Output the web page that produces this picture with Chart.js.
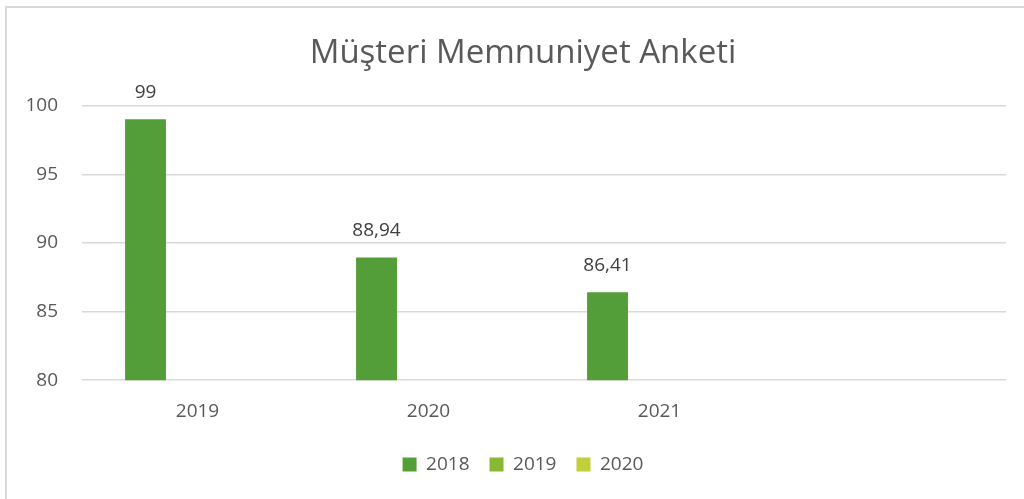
<!DOCTYPE html>
<html>
<head>
<meta charset="utf-8">
<script src="https://cdn.jsdelivr.net/npm/chart.js@4"></script>
<style>
  html, body { margin: 0; padding: 0; background: #fff; overflow: hidden; }
  #wrap { position: relative; width: 1024px; height: 499px; }
  #frame { position: absolute; left: 5px; top: 6px; width: 1100px; height: 600px;
           border: 2px solid #d9d9d9; pointer-events: none; }
</style>
</head>
<body>
<div id="wrap">
  <canvas id="chart" width="1024" height="499"></canvas>
  <div id="frame"></div>
</div>
<script>
// Survey results
const categories = ['2019', '2020', '2021', ''];
const series2018 = [99, 88.94, 86.41, null];
const series2019 = [null, null, null, null];
const series2020 = [null, null, null, null];
const yTicks = [80, 85, 90, 95, 100];

const FONT = '"Open Sans", sans-serif';
const TEXT = '#595959';

// Draw value labels above bars
const valueLabels = {
  id: 'valueLabels',
  afterDatasetsDraw(chart) {
    const ctx = chart.ctx;
    ctx.save();
    ctx.font = '19px ' + FONT;
    ctx.fillStyle = '#404040';
    ctx.textAlign = 'center';
    ctx.textBaseline = 'alphabetic';
    chart.data.datasets.forEach((ds, i) => {
      const meta = chart.getDatasetMeta(i);
      meta.data.forEach((bar, j) => {
        const v = ds.data[j];
        if (v === null || v === undefined) return;
        ctx.fillText(String(v).replace('.', ','), bar.x, bar.y - 21);
      });
    });
    ctx.restore();
  }
};

// Title and legend sit a little right of the canvas centre
const shiftBlocks = {
  id: 'shiftBlocks',
  afterLayout(chart) {
    [chart.titleBlock, chart.legend].forEach(b => {
      if (!b) return;
      b.left += 20;
      b.right += 20;
    });
  }
};

new Chart(document.getElementById('chart'), {
  type: 'bar',
  data: {
    labels: categories,
    datasets: [
      { label: '2018', data: series2018, backgroundColor: '#549e39' },
      { label: '2019', data: series2019, backgroundColor: '#8ab833' },
      { label: '2020', data: series2020, backgroundColor: '#c0cf3a' }
    ]
  },
  options: {
    responsive: false,
    animation: false,
    datasets: {
      bar: { barPercentage: 0.787, categoryPercentage: 0.675 }
    },
    layout: { padding: { left: 0, right: 18, top: 14, bottom: 15 } },
    plugins: {
      title: {
        display: true,
        text: 'Müşteri Memnuniyet Anketi',
        color: TEXT,
        font: { family: FONT, size: 33, weight: 'normal' },
        padding: { top: 20, bottom: 32 }
      },
      legend: {
        position: 'bottom',
        labels: {
          boxWidth: 14,
          boxHeight: 14,
          padding: 20,
          color: TEXT,
          font: { family: FONT, size: 19 }
        }
      },
      tooltip: { enabled: false }
    },
    scales: {
      x: {
        grid: { display: false },
        border: { display: false },
        ticks: { color: TEXT, font: { family: FONT, size: 19 }, padding: 12 }
      },
      y: {
        min: 80,
        max: 100,
        afterBuildTicks(scale) {
          scale.ticks = yTicks.map(v => ({ value: v }));
        },
        afterFit(scale) { scale.width = 82; },
        grid: { color: '#d9d9d9', lineWidth: 1.5, drawTicks: false },
        border: { display: false },
        ticks: { color: TEXT, font: { family: FONT, size: 19 }, padding: 24 }
      }
    }
  },
  plugins: [valueLabels, shiftBlocks]
});
</script>
</body>
</html>
